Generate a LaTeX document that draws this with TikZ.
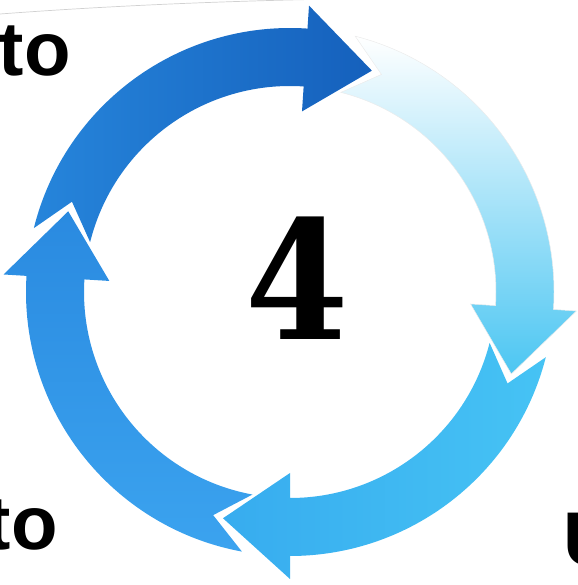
\documentclass[tikz,border=0pt]{standalone}
\usepackage{fontspec}
\newfontfamily\sidefont{Liberation Sans}
\newfontfamily\numfont{DejaVu Serif}
\usepackage{xcolor}
\definecolor{cyctopA}{HTML}{2685DB}
\definecolor{cyctopB}{HTML}{1560BC}
\definecolor{cycrightA}{HTML}{FFFFFF}
\definecolor{cycrightB}{HTML}{4CC6F2}
\definecolor{cycbottomA}{HTML}{46C3F4}
\definecolor{cycbottomB}{HTML}{37ACEF}
\definecolor{cycleftA}{HTML}{3BA3EF}
\definecolor{cycleftB}{HTML}{2A8AE0}
% one curved arrow of the ring: #1 = tip angle of the arrow before, #2 = own tip angle
\newcommand{\ringarrow}[2]{%
  (#1+6:264) arc[start angle=#1+6, end angle=#2+16.5, radius=264]
  -- (#2+16.5:287) -- (#2:236) -- (#2+16.5:181) -- (#2+16.5:206)
  arc[start angle=#2+16.5, end angle=#1+6, radius=206]
  -- (#1-2.5:236) -- cycle}

\begin{document}
\begin{tikzpicture}[
  x=0.03cm, y=0.03cm,
  sidetext/.style={font=\sidefont\bfseries\fontsize{65}{65}\selectfont,
    inner sep=0pt, text=black},
  bignum/.style={font=\numfont\bfseries\fontsize{141}{141}\selectfont,
    inner sep=0pt, xscale=0.9, transform shape}
]
  \useasboundingbox (0,0) rectangle (577,585);

  % faint page edge at the top
  \draw[black!18, line width=0.6pt] (0,571) .. controls (120,580) and (260,586) .. (420,587);

  % Ring of four arrows, clockwise
  \begin{scope}[shift={(290,293)}]
    \shade[left color=cyctopA, right color=cyctopB] \ringarrow{160}{69.7};
    \shadedraw[top color=cycrightA, bottom color=cycrightB, draw=black!8, line width=0.4pt]
      \ringarrow{69.7}{-20.3};
    \shade[right color=cycbottomA, left color=cycbottomB] \ringarrow{-20.3}{-106.5};
    \shade[bottom color=cycleftA, top color=cycleftB] \ringarrow{-106.5}{-200};
  \end{scope}

  % Centre number
  \node[bignum] (num) at (297,307) {4};

  % Cut-off words at the edges
  \node[sidetext, anchor=base east] (topto) at (71,509) {to};
  \node[sidetext, anchor=base east] (bottomto) at (58,35) {to};
  \node[sidetext, anchor=base west] (rightu) at (563,19) {U};
\end{tikzpicture}
\end{document}
